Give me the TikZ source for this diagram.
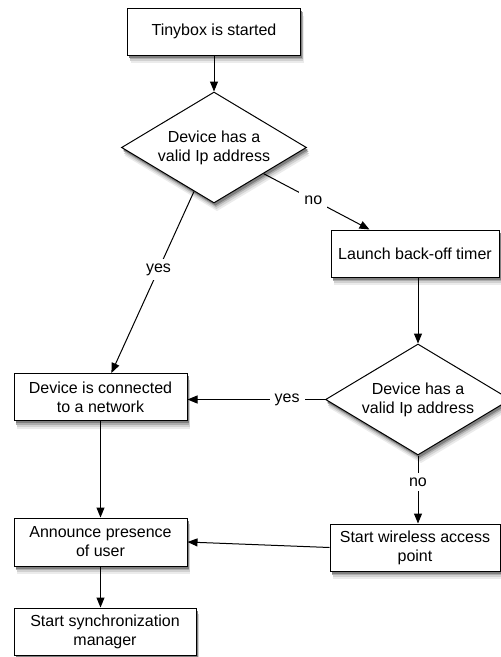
\documentclass[tikz,border=0pt]{standalone}
\usepackage{fontspec}
\setmainfont{Liberation Sans}
\usetikzlibrary{shapes.geometric,arrows.meta}
\begin{document}
\begin{tikzpicture}[x=1pt,y=-1pt,
  font=\fontsize{16}{19}\selectfont,
  procbox/.style={draw,line width=1pt,fill=white,rectangle,inner sep=0pt,align=center},
  decision/.style={draw,line width=1pt,fill=white,diamond,shape aspect=1.66,inner sep=0pt,minimum width=185pt,minimum height=111pt,align=center},
  flow/.style={draw,line width=1pt,-{Triangle[length=10pt,width=8pt]}},
  lbl/.style={fill=white,inner sep=5pt}
]
\useasboundingbox (0,0) rectangle (501,657);
% soft drop shadows (drawn first, offset down and right)
\foreach \dx/\dy/\g in {3/8/8,2.5/6/18,2/4/32,1.5/2.5/50} {
  \fill[black!\g!white] (127.5+\dx,8+\dy) rectangle (300.5+\dx,55+\dy);
  \fill[black!\g!white] (331+\dx,230+\dy) rectangle (499+\dx,277+\dy);
  \fill[black!\g!white] (14+\dx,373.5+\dy) rectangle (187+\dx,420.5+\dy);
  \fill[black!\g!white] (14+\dx,518+\dy) rectangle (187+\dx,566+\dy);
  \fill[black!\g!white] (14+\dx,608+\dy) rectangle (196+\dx,655+\dy);
  \fill[black!\g!white] (330+\dx,524+\dy) rectangle (500+\dx,571+\dy);
  \fill[black!\g!white] (214+\dx,92+\dy) -- (306.5+\dx,147.5+\dy) -- (214+\dx,203+\dy) -- (121.5+\dx,147.5+\dy) -- cycle;
  \fill[black!\g!white] (418+\dx,344+\dy) -- (510.5+\dx,399.5+\dy) -- (418+\dx,455+\dy) -- (325.5+\dx,399.5+\dy) -- cycle;
}
\node[procbox,minimum width=173pt,minimum height=47pt] (start) at (214,31.5) {Tinybox is started};
\node[decision] (d1) at (214,147.5) {Device has a\\valid Ip address};
\node[procbox,minimum width=168pt,minimum height=47pt] (launch) at (415,253.5) {Launch back-off timer};
\node[decision] (d2) at (418,399.5) {Device has a\\valid Ip address};
\node[procbox,minimum width=173pt,minimum height=47pt] (conn) at (100.5,397) {Device is connected\\to a network};
\node[procbox,minimum width=173pt,minimum height=48pt] (announce) at (100.5,542) {Announce presence\\of user};
\node[procbox,minimum width=182pt,minimum height=47pt] (sync) at (105,631.5) {Start synchronization\\manager};
\node[procbox,minimum width=170pt,minimum height=47pt] (wireless) at (415,547.5) {Start wireless access\\point};

\draw[flow] (start) -- (d1);
\draw[flow] (d1) -- node[lbl,pos=0.47] (lno1) {no} (launch);
\draw[flow] (d1) -- node[lbl,pos=0.43] (lyes1) {yes} (conn);
\draw[flow] (launch.south -| d2.north) -- (d2.north);
\draw[flow] (d2.west) -- node[lbl,pos=0.275] (lyes2) {yes} (conn.east |- d2.west);
\draw[flow] (d2.south) -- node[lbl,pos=0.39] (lno2) {no} (wireless.north -| d2.south);
\draw[flow] (conn) -- (announce);
\draw[flow] (wireless.west) -- (announce.east);
\draw[flow] (announce.south) -- (announce.south |- sync.north);
\end{tikzpicture}
\end{document}
